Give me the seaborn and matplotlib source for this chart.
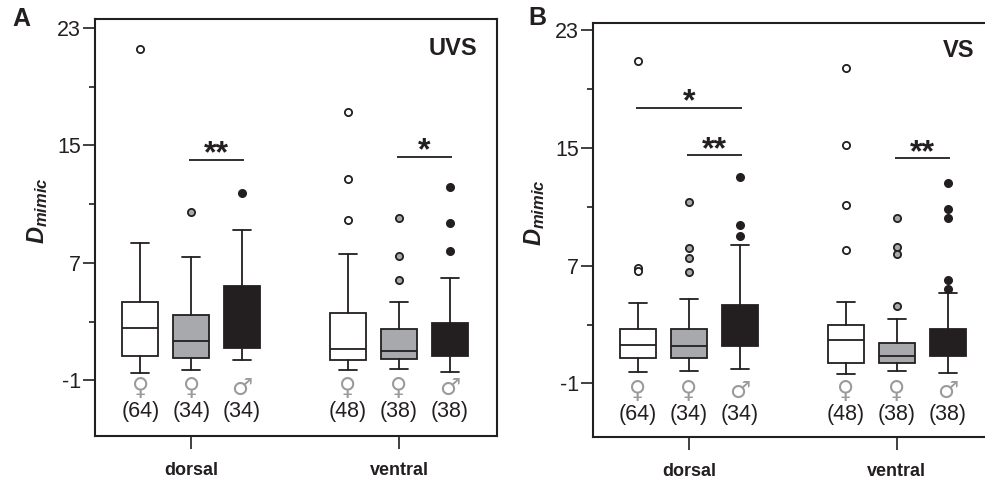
import matplotlib
matplotlib.use("Agg")
import matplotlib.pyplot as plt
from matplotlib.ticker import FixedLocator
import seaborn as sns

sns.set_style("white")
plt.rcParams["font.family"] = ["Liberation Sans", "DejaVu Sans"]
plt.rcParams["axes.unicode_minus"] = False
plt.rcParams["mathtext.fontset"] = "custom"
plt.rcParams["mathtext.it"] = "Liberation Sans:italic:bold"
plt.rcParams["mathtext.bf"] = "Liberation Sans:bold"
try:
    plt.rcParams["mathtext.bfit"] = "Liberation Sans:italic:bold"
except KeyError:
    pass

INK = "#231f20"
GREY = "#a7a9ac"

# --- data ---
groups = ["dorsal", "ventral"]
sexes = ["\u2640", "\u2640", "\u2642"]
counts = [64, 34, 34, 48, 38, 38]
fills = ["white", GREY, INK, "white", GREY, INK]

# panel A: UVS
uvs_whislo = [-0.49, -0.29, 0.35, -0.31, -0.20, -0.47]
uvs_q1 = [0.64, 0.53, 1.21, 0.35, 0.46, 0.64]
uvs_med = [2.57, 1.69, 3.00, 1.14, 0.96, 1.60]
uvs_q3 = [4.34, 3.46, 5.41, 3.59, 2.46, 2.91]
uvs_whishi = [8.34, 7.39, 9.27, 7.63, 4.30, 5.98]
uvs_fliers = [[21.55], [10.47], [11.77], [17.28, 12.74, 9.93],
              [10.09, 7.48, 5.86], [12.2, 9.75, 7.82]]
uvs_sig = [(1, 2, "**", 14.03), (4, 5, "*", 14.24)]

# panel B: VS
vs_whislo = [-0.21, -0.17, 0.01, -0.37, -0.17, -0.28]
vs_q1 = [0.71, 0.76, 1.57, 0.42, 0.38, 0.87]
vs_med = [1.64, 1.57, 3.00, 1.94, 0.85, 1.80]
vs_q3 = [2.71, 2.71, 4.33, 2.98, 1.73, 2.68]
vs_whishi = [4.45, 4.74, 8.41, 4.52, 3.38, 5.13]
vs_fliers = [[20.92, 6.82, 6.66], [11.35, 8.18, 7.55, 6.55], [13.02, 9.76, 9.0],
             [20.44, 15.19, 11.12, 8.09], [10.22, 8.25, 7.77, 4.29],
             [12.62, 10.85, 10.26, 6.01, 5.4]]
vs_sig = [(0, 2, "*", 17.73), (1, 2, "**", 14.49), (4, 5, "**", 14.29)]

OFFSETS = [-0.245, 0.0, 0.245]
positions = [g + o for g in (1, 2) for o in OFFSETS]


def draw_panel(ax, whislo, q1, med, q3, whishi, fliers, sig, title, letter, ylim):
    stats = []
    for i in range(6):
        stats.append(dict(whislo=whislo[i], q1=q1[i], med=med[i], q3=q3[i],
                          whishi=whishi[i], fliers=fliers[i]))
    art = ax.bxp(stats, positions=positions, widths=0.173, patch_artist=True,
                 showfliers=True,
                 boxprops=dict(edgecolor=INK, linewidth=1.3),
                 medianprops=dict(color=INK, linewidth=1.3),
                 whiskerprops=dict(color=INK, linewidth=1.3),
                 capprops=dict(color=INK, linewidth=1.3),
                 flierprops=dict(marker="o", markersize=5.2, markeredgecolor=INK,
                                 markeredgewidth=1.3))
    for box, fl, c in zip(art["boxes"], art["fliers"], fills):
        box.set_facecolor(c)
        fl.set_markerfacecolor(c)

    # sex symbols and sample sizes
    for p, s, n in zip(positions, sexes * 2, counts):
        ax.text(p, -1.5, s, ha="center", va="center", fontsize=17,
                color="#9a9a9a", family=["DejaVu Sans"])
        ax.text(p, -3.1, f"({n})", ha="center", va="center", fontsize=15.5, color=INK)

    # significance bars
    for a, b, stars, y in sig:
        ax.plot([positions[a] - 0.01, positions[b] + 0.01], [y, y], color=INK, lw=1.3,
                solid_capstyle="butt")
        ax.text((positions[a] + positions[b]) / 2, y - 0.65, stars, ha="center",
                va="bottom", fontsize=23, fontweight="bold", color=INK)

    ax.set_xlim(0.537, 2.472)
    ax.set_ylim(*ylim)
    ax.set_xticks([1, 2])
    ax.set_xticklabels(groups, fontweight="bold", fontsize=13, color=INK)
    ax.yaxis.set_major_locator(FixedLocator([-1, 7, 15, 23]))
    ax.yaxis.set_minor_locator(FixedLocator([3, 11, 19]))
    ax.tick_params(axis="y", which="major", length=9, width=1.2, pad=1,
                   labelsize=15.5, labelcolor=INK, color=INK, left=True)
    ax.tick_params(axis="y", which="minor", length=4.5, width=1.2, color=INK, left=True)
    ax.tick_params(axis="x", length=9, width=1.2, pad=10, color=INK, bottom=True)
    for sp in ax.spines.values():
        sp.set_linewidth(1.5)
        sp.set_color(INK)

    ax.text(-0.144, 0.542, r"$\mathbfit{D}_{\mathbfit{mimic}}$", transform=ax.transAxes,
            rotation=90, ha="center", va="center", fontsize=17, color=INK)
    ax.text(title[1], title[2], title[0], transform=ax.transAxes, ha="center",
            va="center", fontsize=17, fontweight="bold", color=INK)
    ax.text(letter[1], letter[2], letter[0], transform=ax.transAxes, ha="center",
            va="center", fontsize=18, fontweight="bold", color=INK)


fig = plt.figure(figsize=(9.85, 4.78), dpi=100)
axA = fig.add_axes([95 / 985, 1 - 436 / 478, 402 / 985, (436 - 19.3) / 478])
axB = fig.add_axes([592.7 / 985, 1 - 436.5 / 478, 402 / 985, (436.5 - 22.7) / 478])

draw_panel(axA, uvs_whislo, uvs_q1, uvs_med, uvs_q3, uvs_whishi, uvs_fliers, uvs_sig,
           ("UVS", 0.89, 0.931), ("A", (21 - 95) / 402, (436 - 19) / 416.7), (-4.8, 23.6))
draw_panel(axB, vs_whislo, vs_q1, vs_med, vs_q3, vs_whishi, vs_fliers, vs_sig,
           ("VS", 0.909, 0.934), ("B", (537 - 592.7) / 402, (436.5 - 18) / 413.8), (-4.6, 23.5))

fig.savefig("out.png", dpi=100)
